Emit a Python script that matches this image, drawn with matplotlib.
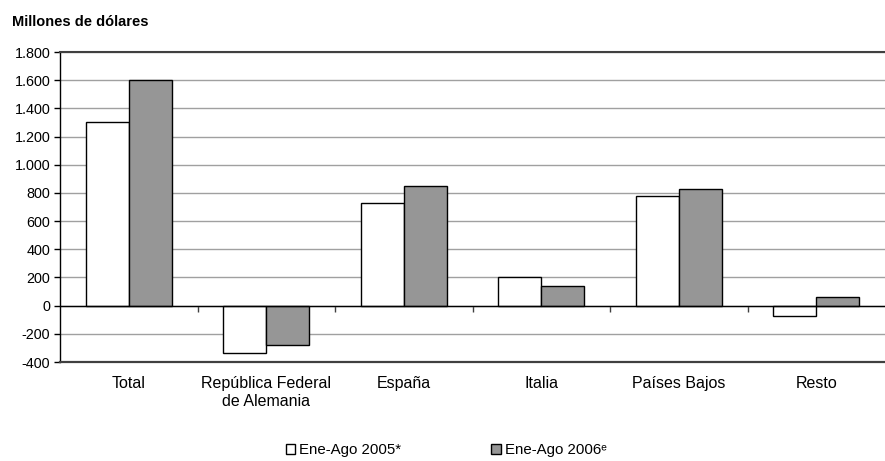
import matplotlib
matplotlib.use("Agg")
import matplotlib.pyplot as plt
import numpy as np

plt.rcParams['font.family'] = ['Liberation Sans', 'DejaVu Sans']

categories = ["Total", "República Federal\nde Alemania", "España", "Italia", "Países Bajos", "Resto"]
serie_2005 = [1300, -335, 725, 200, 775, -75]
serie_2006 = [1600, -280, 850, 140, 825, 60]
series_labels = ["Ene-Ago 2005*", "Ene-Ago 2006ᵉ"]
yticks = [-400, -200, 0, 200, 400, 600, 800, 1000, 1200, 1400, 1600, 1800]
ytick_labels = ["-400", "-200", "0", "200", "400", "600", "800", "1.000", "1.200", "1.400", "1.600", "1.800"]

fig = plt.figure(figsize=(8.85, 4.61), dpi=100)
ax = fig.add_axes([60/885, 1 - 362/461, 1 - 60/885, 310/461])

x = np.arange(len(categories))
w = 0.3125
ax.bar(x - w/2, serie_2005, width=w, color="white", edgecolor="black", linewidth=1.0,
       label=series_labels[0], zorder=3)
ax.bar(x + w/2, serie_2006, width=w, color="#969696", edgecolor="black", linewidth=1.0,
       label=series_labels[1], zorder=3)

ax.set_xlim(-0.5, len(categories) - 0.5)
ax.set_ylim(-400, 1800)
ax.set_yticks(yticks)
ax.set_yticklabels(ytick_labels, fontsize=10.4, color="black")
ax.yaxis.grid(True, color="#a0a0a0", linewidth=1.0, zorder=0)
ax.set_axisbelow(True)

ax.spines["right"].set_visible(False)
ax.spines["top"].set_color("#404040")
ax.spines["top"].set_linewidth(1.5)
ax.spines["left"].set_color("black")
ax.spines["left"].set_linewidth(1.0)
ax.spines["bottom"].set_color("#404040")
ax.spines["bottom"].set_linewidth(1.6)

ax.tick_params(axis="y", length=4, width=1, direction="out", pad=3)
ax.set_xticks(x)
ax.set_xticklabels(categories, fontsize=11.5, linespacing=1.3)
ax.tick_params(axis="x", length=0, pad=10)

# zero line with category separator ticks
ax.axhline(0, color="black", linewidth=1.0, zorder=4)
sec = ax.secondary_xaxis(400/2200)
sec.set_xticks(np.arange(len(categories) - 1) + 0.5)
sec.set_xticklabels([])
sec.tick_params(axis="x", length=4, width=1, direction="out", color="#404040")
sec.spines["bottom"].set_visible(False)

fig.text(12/885, 1 - 22/461, "Millones de dólares", fontsize=10.5, fontweight="bold", va="center")

fig.legend(loc="center", bbox_to_anchor=(446/885, 11/461), ncol=2, frameon=False,
           fontsize=10.8, handlelength=0.65, handleheight=0.65, handletextpad=0.25,
           columnspacing=6.0)

fig.savefig("out.png", dpi=100)
